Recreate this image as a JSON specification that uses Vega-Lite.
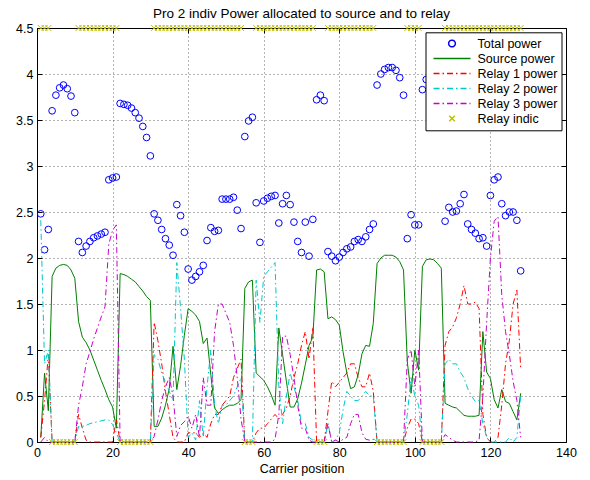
{
"$schema": "https://vega.github.io/schema/vega-lite/v6.json",
"width": 529, "height": 414,
"autosize": {"type": "none"},
"padding": {"left": 37, "top": 28, "right": 24, "bottom": 38},
"background": "white",
"title": {"text": "Pro 2 indiv Power allocated to source and to relay", "font": "Liberation Sans", "fontSize": 13.5, "fontWeight": "normal", "color": "black", "offset": 2, "anchor": "middle"},
"config": {
 "view": {"stroke": null},
 "font": "Liberation Sans",
 "axis": {"domainColor": "black", "domainWidth": 1, "tickColor": "black", "tickSize": -5, "tickWidth": 1, "labelColor": "black", "labelFont": "Liberation Sans", "labelFontSize": 12.5, "titleFont": "Liberation Sans", "titleFontSize": 12.5, "titleFontWeight": "normal", "titleColor": "black", "gridColor": "#444444", "gridDash": [1, 3], "gridOpacity": 0.8, "gridWidth": 1, "labelPadding": 9, "labelFlush": false, "labelOverlap": false}
},
"data": {"values": [
{"c":1,"t":2.48,"s":0.05,"a":0.05,"b":2.41,"m":0,"i":4.5},
{"c":2,"t":2.09,"s":0.75,"a":0.45,"b":0.85,"m":0.05,"i":4.5},
{"c":3,"t":2.31,"s":0.34,"a":0.95,"b":1.0,"m":0,"i":4.5},
{"c":4,"t":3.60,"s":1.80,"a":0,"b":0,"m":0,"i":0},
{"c":5,"t":3.77,"s":1.89,"a":0,"b":0,"m":0,"i":0},
{"c":6,"t":3.85,"s":1.92,"a":0,"b":0,"m":0,"i":0},
{"c":7,"t":3.88,"s":1.93,"a":0,"b":0,"m":0,"i":0},
{"c":8,"t":3.84,"s":1.92,"a":0,"b":0,"m":0,"i":0},
{"c":9,"t":3.76,"s":1.87,"a":0,"b":0,"m":0,"i":0},
{"c":10,"t":3.58,"s":1.78,"a":0,"b":0,"m":0,"i":0},
{"c":11,"t":2.18,"s":1.31,"a":0.30,"b":0.17,"m":0.40,"i":4.5},
{"c":12,"t":2.06,"s":1.14,"a":0.15,"b":0.17,"m":0.60,"i":4.5},
{"c":13,"t":2.13,"s":1.08,"a":0.02,"b":0.18,"m":0.85,"i":4.5},
{"c":14,"t":2.18,"s":1.00,"a":0,"b":0.20,"m":0.98,"i":4.5},
{"c":15,"t":2.22,"s":0.89,"a":0,"b":0.21,"m":1.12,"i":4.5},
{"c":16,"t":2.24,"s":0.78,"a":0,"b":0.22,"m":1.24,"i":4.5},
{"c":17,"t":2.26,"s":0.67,"a":0,"b":0.23,"m":1.36,"i":4.5},
{"c":18,"t":2.28,"s":0.57,"a":0,"b":0.24,"m":1.47,"i":4.5},
{"c":19,"t":2.85,"s":0.46,"a":0,"b":0.24,"m":2.15,"i":4.5},
{"c":20,"t":2.87,"s":0.38,"a":0,"b":0.19,"m":2.30,"i":4.5},
{"c":21,"t":2.88,"s":0.15,"a":0.25,"b":0.10,"m":2.36,"i":4.5},
{"c":22,"t":3.68,"s":1.83,"a":0,"b":0,"m":0,"i":0},
{"c":23,"t":3.67,"s":1.82,"a":0,"b":0,"m":0,"i":0},
{"c":24,"t":3.66,"s":1.80,"a":0,"b":0,"m":0,"i":0},
{"c":25,"t":3.63,"s":1.77,"a":0,"b":0,"m":0,"i":0},
{"c":26,"t":3.58,"s":1.74,"a":0,"b":0,"m":0,"i":0},
{"c":27,"t":3.52,"s":1.69,"a":0,"b":0,"m":0,"i":0},
{"c":28,"t":3.43,"s":1.64,"a":0,"b":0,"m":0,"i":0},
{"c":29,"t":3.31,"s":1.58,"a":0,"b":0,"m":0,"i":0},
{"c":30,"t":3.11,"s":1.54,"a":0,"b":0,"m":0,"i":0},
{"c":31,"t":2.48,"s":0.17,"a":1.30,"b":0.95,"m":0.06,"i":4.5},
{"c":32,"t":2.41,"s":0.17,"a":1.10,"b":0.90,"m":0.24,"i":4.5},
{"c":33,"t":2.31,"s":0.26,"a":0.85,"b":0.75,"m":0.45,"i":4.5},
{"c":34,"t":2.21,"s":0.40,"a":0.55,"b":0.65,"m":0.60,"i":4.5},
{"c":35,"t":2.14,"s":0.58,"a":0.30,"b":0.55,"m":0.70,"i":4.5},
{"c":36,"t":2.03,"s":1.04,"a":0.05,"b":0.45,"m":0.50,"i":4.5},
{"c":37,"t":2.58,"s":0.57,"a":0,"b":1.95,"m":0.06,"i":4.5},
{"c":38,"t":2.46,"s":0.83,"a":0,"b":1.45,"m":0.18,"i":4.5},
{"c":39,"t":2.28,"s":1.16,"a":0,"b":0.90,"m":0.22,"i":4.5},
{"c":40,"t":1.88,"s":1.45,"a":0.10,"b":0.05,"m":0.28,"i":4.5},
{"c":41,"t":1.76,"s":1.42,"a":0.10,"b":0.10,"m":0.15,"i":4.5},
{"c":42,"t":1.80,"s":1.38,"a":0.10,"b":0.02,"m":0.30,"i":4.5},
{"c":43,"t":1.85,"s":1.31,"a":0.05,"b":0.45,"m":0.05,"i":4.5},
{"c":44,"t":1.92,"s":1.07,"a":0.10,"b":0.05,"m":0.70,"i":4.5},
{"c":45,"t":2.19,"s":1.13,"a":0.05,"b":0.60,"m":0.40,"i":4.5},
{"c":46,"t":2.33,"s":0.73,"a":0.20,"b":1.00,"m":0.40,"i":4.5},
{"c":47,"t":2.29,"s":0.37,"a":0.30,"b":0.40,"m":1.20,"i":4.5},
{"c":48,"t":2.30,"s":0.31,"a":0.30,"b":0.20,"m":1.50,"i":4.5},
{"c":49,"t":2.64,"s":0.35,"a":0.40,"b":0.40,"m":1.50,"i":4.5},
{"c":50,"t":2.64,"s":0.38,"a":0.45,"b":0.40,"m":1.40,"i":4.5},
{"c":51,"t":2.64,"s":0.40,"a":0.50,"b":0.45,"m":1.30,"i":4.5},
{"c":52,"t":2.66,"s":0.40,"a":0.70,"b":0.50,"m":1.05,"i":4.5},
{"c":53,"t":2.52,"s":0.42,"a":0.80,"b":0.60,"m":0.70,"i":4.5},
{"c":54,"t":2.32,"s":0.46,"a":0.90,"b":0.70,"m":0.25,"i":4.5},
{"c":55,"t":3.32,"s":1.67,"a":0,"b":0,"m":0,"i":0},
{"c":56,"t":3.49,"s":1.74,"a":0,"b":0,"m":0,"i":0},
{"c":57,"t":3.53,"s":1.76,"a":0,"b":0,"m":0,"i":0},
{"c":58,"t":2.60,"s":0.75,"a":0.10,"b":1.76,"m":0,"i":4.5},
{"c":59,"t":2.17,"s":0.71,"a":0.15,"b":1.30,"m":0,"i":4.5},
{"c":60,"t":2.62,"s":0.67,"a":0.15,"b":1.80,"m":0,"i":4.5},
{"c":61,"t":2.65,"s":0.60,"a":0.20,"b":1.85,"m":0,"i":4.5},
{"c":62,"t":2.67,"s":0.51,"a":0.25,"b":1.90,"m":0,"i":4.5},
{"c":63,"t":2.68,"s":0.40,"a":0.30,"b":1.95,"m":0.03,"i":4.5},
{"c":64,"t":2.38,"s":1.24,"a":0.25,"b":0.60,"m":0.30,"i":4.5},
{"c":65,"t":2.59,"s":0.95,"a":0.30,"b":0.20,"m":1.15,"i":4.5},
{"c":66,"t":2.68,"s":0.66,"a":0.37,"b":0.50,"m":1.15,"i":4.5},
{"c":67,"t":2.58,"s":0.38,"a":0.50,"b":0.75,"m":0.95,"i":4.5},
{"c":68,"t":2.39,"s":0.38,"a":0.70,"b":0.60,"m":0.70,"i":4.5},
{"c":69,"t":2.18,"s":0.47,"a":0.85,"b":0.45,"m":0.40,"i":4.5},
{"c":70,"t":2.06,"s":0.64,"a":1.05,"b":0.20,"m":0.15,"i":4.5},
{"c":71,"t":2.39,"s":0.84,"a":1.20,"b":0.20,"m":0.15,"i":4.5},
{"c":72,"t":2.02,"s":1.05,"a":0.90,"b":0.05,"m":0.02,"i":4.5},
{"c":73,"t":2.42,"s":1.14,"a":1.25,"b":0.02,"m":0,"i":4.5},
{"c":74,"t":3.72,"s":1.87,"a":0,"b":0,"m":0,"i":0},
{"c":75,"t":3.77,"s":1.88,"a":0,"b":0,"m":0,"i":0},
{"c":76,"t":3.71,"s":1.85,"a":0,"b":0,"m":0,"i":0},
{"c":77,"t":2.07,"s":1.34,"a":0.33,"b":0.20,"m":0.20,"i":4.5},
{"c":78,"t":2.02,"s":1.36,"a":0.66,"b":0,"m":0,"i":4.5},
{"c":79,"t":1.97,"s":1.33,"a":0.60,"b":0.02,"m":0.02,"i":4.5},
{"c":80,"t":2.01,"s":1.27,"a":0.65,"b":0.10,"m":0,"i":4.5},
{"c":81,"t":2.06,"s":0.98,"a":0.70,"b":0.35,"m":0.03,"i":4.5},
{"c":82,"t":2.10,"s":0.75,"a":0.75,"b":0.55,"m":0.05,"i":4.5},
{"c":83,"t":2.12,"s":0.58,"a":0.85,"b":0.50,"m":0.20,"i":4.5},
{"c":84,"t":2.18,"s":0.60,"a":0.85,"b":0.45,"m":0.30,"i":4.5},
{"c":85,"t":2.20,"s":0.73,"a":0.70,"b":0.45,"m":0.30,"i":4.5},
{"c":86,"t":2.18,"s":0.96,"a":0.60,"b":0.50,"m":0.10,"i":4.5},
{"c":87,"t":2.23,"s":1.05,"a":0.60,"b":0.55,"m":0.03,"i":4.5},
{"c":88,"t":2.31,"s":1.04,"a":0.75,"b":0.50,"m":0.02,"i":4.5},
{"c":89,"t":2.37,"s":1.29,"a":0.55,"b":0.50,"m":0.03,"i":4.5},
{"c":90,"t":3.88,"s":1.94,"a":0,"b":0,"m":0,"i":0},
{"c":91,"t":4.00,"s":2.00,"a":0,"b":0,"m":0,"i":0},
{"c":92,"t":4.05,"s":2.03,"a":0,"b":0,"m":0,"i":0},
{"c":93,"t":4.07,"s":2.03,"a":0,"b":0,"m":0,"i":0},
{"c":94,"t":4.07,"s":2.03,"a":0,"b":0,"m":0,"i":0},
{"c":95,"t":4.04,"s":2.01,"a":0,"b":0,"m":0,"i":0},
{"c":96,"t":3.96,"s":1.96,"a":0,"b":0,"m":0,"i":0},
{"c":97,"t":3.77,"s":1.87,"a":0,"b":0,"m":0,"i":0},
{"c":98,"t":2.21,"s":0.87,"a":0.15,"b":0.30,"m":0.90,"i":4.5},
{"c":99,"t":2.47,"s":0.53,"a":0.25,"b":0.70,"m":1.00,"i":4.5},
{"c":100,"t":2.36,"s":1.00,"a":0.25,"b":0.50,"m":0.60,"i":4.5},
{"c":101,"t":2.36,"s":0.78,"a":0.20,"b":0.40,"m":1.00,"i":4.5},
{"c":102,"t":3.83,"s":1.91,"a":0,"b":0,"m":0,"i":0},
{"c":103,"t":3.94,"s":1.98,"a":0,"b":0,"m":0,"i":0},
{"c":104,"t":3.98,"s":1.99,"a":0,"b":0,"m":0,"i":0},
{"c":105,"t":3.96,"s":1.98,"a":0,"b":0,"m":0,"i":0},
{"c":106,"t":3.88,"s":1.94,"a":0,"b":0,"m":0,"i":0},
{"c":107,"t":3.78,"s":1.89,"a":0,"b":0,"m":0,"i":0},
{"c":108,"t":2.40,"s":0.42,"a":1.05,"b":0.85,"m":0.08,"i":4.5},
{"c":109,"t":2.55,"s":0.40,"a":1.20,"b":0.90,"m":0.05,"i":4.5},
{"c":110,"t":2.50,"s":0.38,"a":1.25,"b":0.85,"m":0.02,"i":4.5},
{"c":111,"t":2.51,"s":0.37,"a":1.35,"b":0.85,"m":0,"i":4.5},
{"c":112,"t":2.59,"s":0.33,"a":1.50,"b":0.76,"m":0,"i":4.5},
{"c":113,"t":2.69,"s":0.29,"a":1.70,"b":0.70,"m":0,"i":4.5},
{"c":114,"t":2.37,"s":0.28,"a":1.50,"b":0.58,"m":0,"i":4.5},
{"c":115,"t":2.31,"s":0.28,"a":1.50,"b":0.50,"m":0,"i":4.5},
{"c":116,"t":2.27,"s":0.28,"a":1.52,"b":0.44,"m":0,"i":4.5},
{"c":117,"t":2.21,"s":0.29,"a":1.45,"b":0.45,"m":0.02,"i":4.5},
{"c":118,"t":2.22,"s":1.20,"a":0.30,"b":0.20,"m":0.50,"i":4.5},
{"c":119,"t":2.13,"s":0.76,"a":0.05,"b":0.05,"m":1.30,"i":4.5},
{"c":120,"t":2.68,"s":0.69,"a":0,"b":0,"m":2.00,"i":4.5},
{"c":121,"t":2.85,"s":0.46,"a":0,"b":0,"m":2.40,"i":4.5},
{"c":122,"t":2.88,"s":0.37,"a":0.05,"b":0,"m":2.45,"i":4.5},
{"c":123,"t":2.59,"s":0.57,"a":0.40,"b":0,"m":1.60,"i":4.5},
{"c":124,"t":2.46,"s":0.44,"a":0.85,"b":0,"m":1.20,"i":4.5},
{"c":125,"t":2.50,"s":0.42,"a":1.10,"b":0.05,"m":0.95,"i":4.5},
{"c":126,"t":2.50,"s":0.33,"a":1.50,"b":0,"m":0.66,"i":4.5},
{"c":127,"t":2.41,"s":0.24,"a":1.65,"b":0.05,"m":0.45,"i":4.5},
{"c":128,"t":1.86,"s":0.53,"a":0.80,"b":0.50,"m":0.05,"i":4.5}
]},
"layer": [
 {"mark": {"type": "point", "shape": "circle", "filled": false, "size": 45, "strokeWidth": 1, "opacity": 1},
  "encoding": {
   "x": {"field": "c", "type": "quantitative", "scale": {"domain": [0, 140], "nice": false, "zero": false},
         "axis": {"orient": "bottom", "values": [0,20,40,60,80,100,120,140], "title": "Carrier position", "grid": true, "titlePadding": 4}},
   "y": {"field": "t", "type": "quantitative", "scale": {"domain": [0, 4.5], "nice": false},
         "axis": {"orient": "left", "values": [0,0.5,1,1.5,2,2.5,3,3.5,4,4.5], "format": "~g", "title": null, "grid": true}},
   "color": {"datum": "Total power", "type": "nominal",
     "scale": {"domain": ["Total power","Source power","Relay 1 power","Relay 2 power","Relay 3 power","Relay indic"],
               "range": ["#0000ff","#008000","#ff0000","#00c8c8","#c800c8","#bfbf00"]},
     "legend": {"title": null, "orient": "none", "legendX": 388.5, "legendY": 4.3, "fillColor": "white", "strokeColor": "black",
       "padding": 4, "symbolOffset": 3, "labelOffset": 6, "clipHeight": 14.4, "rowPadding": 0,
       "labelFont": "Liberation Sans", "labelFontSize": 12.5, "labelColor": "black", "labelLimit": 200,
       "symbolType": {"expr": "datum.value === 'Total power' ? 'circle' : (datum.value === 'Relay indic' ? 'M-1,-1L1,1M1,-1L-1,1' : 'stroke')"},
       "symbolSize": {"expr": "datum.value === 'Total power' ? 45 : (datum.value === 'Relay indic' ? 30 : 1369)"},
       "symbolDash": {"expr": "(datum.value === 'Relay 1 power' || datum.value === 'Relay 2 power' || datum.value === 'Relay 3 power') ? [6,3,1.5,3] : [1,0]"},
       "encode": {"symbols": {
         "fill": {"value": "transparent"},
         "strokeWidth": {"value": 1},
         "opacity": {"value": 1}
       }}}
   }
  }},
 {"mark": {"type": "line", "strokeWidth": 1},
  "encoding": {
   "x": {"field": "c", "type": "quantitative", "axis": {"orient": "top", "values": [0,20,40,60,80,100,120,140], "labels": false, "title": null, "grid": false}},
   "y": {"field": "s", "type": "quantitative", "axis": {"orient": "right", "values": [0,0.5,1,1.5,2,2.5,3,3.5,4,4.5], "labels": false, "title": null, "grid": false}},
   "color": {"datum": "Source power", "type": "nominal"}
  }},
 {"mark": {"type": "line", "strokeWidth": 1, "strokeDash": [6,3,1.5,3]},
  "encoding": {
   "x": {"field": "c", "type": "quantitative", "axis": null},
   "y": {"field": "a", "type": "quantitative", "axis": null},
   "color": {"datum": "Relay 1 power", "type": "nominal"}
  }},
 {"mark": {"type": "line", "strokeWidth": 1, "strokeDash": [6,3,1.5,3]},
  "encoding": {
   "x": {"field": "c", "type": "quantitative", "axis": null},
   "y": {"field": "b", "type": "quantitative", "axis": null},
   "color": {"datum": "Relay 2 power", "type": "nominal"}
  }},
 {"mark": {"type": "line", "strokeWidth": 1, "strokeDash": [6,3,1.5,3]},
  "encoding": {
   "x": {"field": "c", "type": "quantitative", "axis": null},
   "y": {"field": "m", "type": "quantitative", "axis": null},
   "color": {"datum": "Relay 3 power", "type": "nominal"}
  }},
 {"mark": {"type": "point", "shape": "M-1,-1L1,1M1,-1L-1,1", "filled": false, "size": 36, "strokeWidth": 1, "opacity": 1},
  "encoding": {
   "x": {"field": "c", "type": "quantitative", "axis": null},
   "y": {"field": "i", "type": "quantitative", "axis": null},
   "color": {"datum": "Relay indic", "type": "nominal"}
  }}
],
"resolve": {"axis": {"x": "independent", "y": "independent"}}
}
